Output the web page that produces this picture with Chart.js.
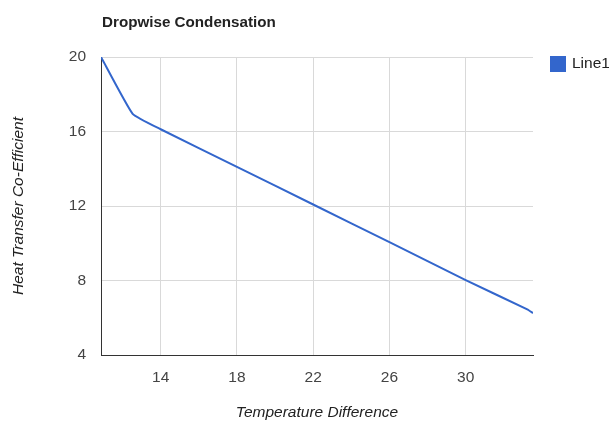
<!DOCTYPE html>
<html>
<head>
<meta charset="utf-8">
<script src="https://cdn.jsdelivr.net/npm/chart.js@4"></script>
<style>
html,body{margin:0;padding:0;background:#fff;}
#wrap{width:609px;height:422px;}
</style>
</head>
<body>
<div id="wrap"><canvas id="c" width="609" height="422"></canvas></div>
<script>
const chartTitle = "Dropwise Condensation";
const seriesName = "Line1";
const xTitle = "Temperature Difference";
const yTitle = "Heat Transfer Co-Efficient";
const tempDiff = [10.87, 12.53, 14, 18, 22, 26, 30, 33.23, 33.53];
const heatCoeff = [20, 16.95, 16.12, 14.1, 12.08, 10.06, 8.02, 6.45, 6.25];
const xTicks = [14, 18, 22, 26, 30];
const yTicks = [4, 8, 12, 16, 20];
const xRange = [10.87, 33.53];
const yRange = [4, 20];

const FONT = "Arial, 'Liberation Sans', sans-serif";
const BLUE = '#3366cc';
const FS = 15.5;

const overlay = {
  id: 'overlay',
  afterDraw(chart) {
    const ctx = chart.ctx, a = chart.chartArea;
    ctx.save();
    ctx.fillStyle = '#222';
    ctx.font = 'bold 15.2px ' + FONT;
    ctx.textBaseline = 'middle';
    ctx.textAlign = 'left';
    ctx.fillText(chartTitle, a.left + 1, 23);
    ctx.fillStyle = BLUE;
    ctx.fillRect(a.right + 17, a.top - 1, 16, 16);
    ctx.fillStyle = '#222';
    ctx.font = FS + 'px ' + FONT;
    ctx.fillText(seriesName, a.right + 39, a.top + 7);
    ctx.restore();
  }
};

new Chart(document.getElementById('c'), {
  type: 'line',
  data: {
    datasets: [{
      label: seriesName,
      data: tempDiff.map((x, i) => ({x: x, y: heatCoeff[i]})),
      borderColor: BLUE,
      backgroundColor: BLUE,
      borderWidth: 2,
      pointRadius: 0,
      tension: 0.12,
      fill: false
    }]
  },
  options: {
    responsive: false,
    animation: false,
    layout: {padding: {left: 0, right: 76, top: 57, bottom: 0}},
    plugins: {legend: {display: false}, title: {display: false}, tooltip: {enabled: false}},
    scales: {
      x: {
        type: 'linear',
        min: xRange[0], max: xRange[1],
        afterBuildTicks: s => { s.ticks = xTicks.map(v => ({value: v})); },
        afterFit: s => { s.height = 67; },
        grid: {color: '#d9d9d9', drawTicks: false, lineWidth: 1},
        border: {color: '#333333', width: 1},
        ticks: {color: '#444', font: {family: FONT, size: FS}, padding: 13, maxRotation: 0},
        title: {display: true, text: xTitle, color: '#222', font: {family: FONT, size: FS, style: 'italic'}, padding: {top: 16, bottom: 0}}
      },
      y: {
        type: 'linear',
        min: yRange[0], max: yRange[1],
        afterBuildTicks: s => { s.ticks = yTicks.map(v => ({value: v})); },
        afterFit: s => { s.width = 101; },
        grid: {color: '#d9d9d9', drawTicks: false, lineWidth: 1},
        border: {color: '#333333', width: 1},
        ticks: {color: '#444', font: {family: FONT, size: FS}, padding: 15},
        title: {display: true, text: yTitle, color: '#222', font: {family: FONT, size: FS, style: 'italic'}, padding: {top: 9, bottom: 0}}
      }
    }
  },
  plugins: [overlay]
});
</script>
</body>
</html>
